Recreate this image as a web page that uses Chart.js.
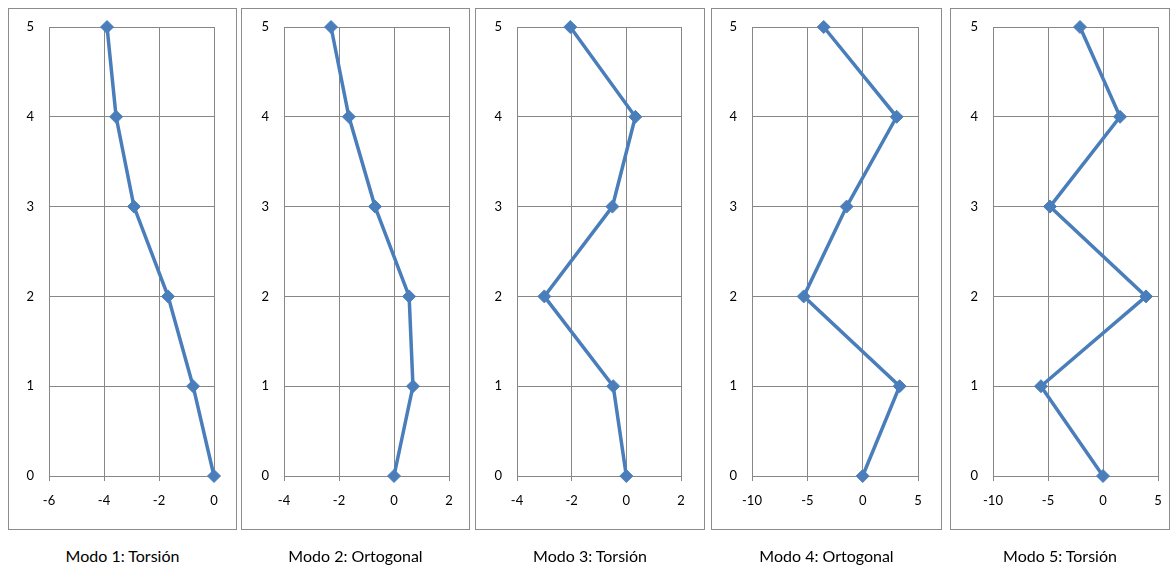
<!DOCTYPE html>
<html lang="es">
<head>
    <meta charset="UTF-8">
    <title>Modos de vibración</title>
    <script src="https://cdn.jsdelivr.net/npm/chart.js@4.4.2/dist/chart.umd.min.js"></script>
    <style>
        body { margin: 0; background: #fff; font-family: 'Lato', 'Open Sans', sans-serif; overflow: hidden; }
        #wrap { position: relative; width: 1171px; height: 565px; overflow: hidden; }
        .box { position: absolute; border: 1px solid #8c8c8c; box-sizing: border-box; }
        .chart { position: absolute; }
        .title { position: absolute; text-align: center; font-size: 16px; color: #000; }
    </style>
</head>
<body>
<div id="wrap"></div>
<script>
    // Niveles (eje vertical)
    const levels = [0, 1, 2, 3, 4, 5];

    // Desplazamientos modales
    const modo1 = [0, -0.76, -1.67, -2.91, -3.56, -3.89];
    const modo2 = [0, 0.69, 0.55, -0.69, -1.64, -2.29];
    const modo3 = [0, -0.48, -3.0, -0.51, 0.33, -2.05];
    const modo4 = [0, 3.34, -5.33, -1.45, 3.07, -3.52];
    const modo5 = [0, -5.64, 3.91, -4.82, 1.55, -2.09];

    const titles = ['Modo 1: Torsión', 'Modo 2: Ortogonal', 'Modo 3: Torsión', 'Modo 4: Ortogonal', 'Modo 5: Torsión'];
    const xRanges = [[-6, 0, 2], [-4, 2, 2], [-4, 2, 2], [-10, 5, 5], [-10, 5, 5]];
    const series = [modo1, modo2, modo3, modo4, modo5];

    // layout: caja y área de trazado de cada panel
    const boxes = [
        { left: 8, width: 229, plotL: 49, plotR: 214 },
        { left: 241, width: 229, plotL: 284, plotR: 449 },
        { left: 475, width: 230, plotL: 517, plotR: 681 },
        { left: 711, width: 231, plotL: 752, plotR: 918 },
        { left: 950, width: 220, plotL: 993, plotR: 1158 }
    ];
    const boxTop = 8, boxBottom = 530, plotTop = 27, plotBottom = 476;
    const extra = 20; // canvas a bit wider than the box so the last x label fits

    const gridColor = '#878787';
    const lineColor = '#4a7ebb';
    const fontFamily = "'Lato', 'Open Sans', sans-serif";
    const wrap = document.getElementById('wrap');

    series.forEach((values, i) => {
        const b = boxes[i];
        const box = document.createElement('div');
        box.className = 'box';
        box.style.left = b.left + 'px';
        box.style.top = boxTop + 'px';
        box.style.width = b.width + 'px';
        box.style.height = (boxBottom - boxTop) + 'px';
        wrap.appendChild(box);

        const canvasW = b.width + extra;
        const canvas = document.createElement('canvas');
        canvas.className = 'chart';
        canvas.width = canvasW;
        canvas.height = boxBottom - boxTop;
        canvas.style.left = b.left + 'px';
        canvas.style.top = boxTop + 'px';
        wrap.appendChild(canvas);

        const title = document.createElement('div');
        title.className = 'title';
        title.textContent = titles[i];
        title.style.left = b.left + 'px';
        title.style.width = b.width + 'px';
        title.style.top = '546px';
        wrap.appendChild(title);

        const [xmin, xmax, xstep] = xRanges[i];

        new Chart(canvas.getContext('2d'), {
            type: 'scatter',
            data: {
                datasets: [{
                    data: values.map((v, k) => ({ x: v, y: levels[k] })),
                    showLine: true,
                    borderColor: lineColor,
                    backgroundColor: lineColor,
                    borderWidth: 3.5,
                    pointStyle: 'rectRot',
                    pointRadius: 6.5,
                    pointBorderWidth: 1,
                    clip: false
                }]
            },
            options: {
                responsive: false,
                animation: false,
                layout: { padding: { top: plotTop - boxTop, right: b.left + canvasW - b.plotR, left: 0, bottom: 0 } },
                plugins: { legend: { display: false }, tooltip: { enabled: false } },
                scales: {
                    x: {
                        type: 'linear',
                        min: xmin, max: xmax,
                        ticks: { stepSize: xstep, color: '#000', font: { family: fontFamily, size: 13 }, padding: 12, maxRotation: 0 },
                        grid: { color: gridColor, tickLength: 5 },
                        border: { color: gridColor },
                        afterFit: s => { s.height = boxBottom - plotBottom; }
                    },
                    y: {
                        type: 'linear',
                        min: 0, max: 5,
                        ticks: { stepSize: 1, color: '#000', font: { family: fontFamily, size: 13 }, padding: 1 },
                        // invisible tick marks push the labels away from the axis
                        grid: { color: gridColor, tickLength: 14, tickColor: 'rgba(0,0,0,0)' },
                        border: { color: gridColor },
                        afterFit: s => { s.width = b.plotL - b.left; }
                    }
                }
            }
        });
    });
</script>
</body>
</html>
